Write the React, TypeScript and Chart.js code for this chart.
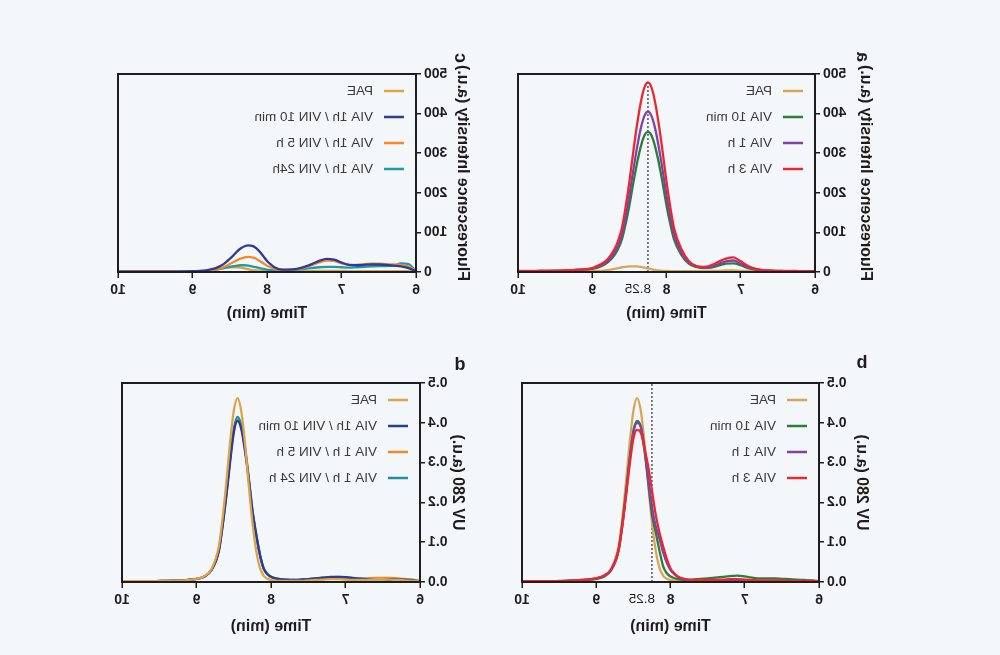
import React, { useEffect, useRef } from "react";
import { Chart, registerables } from "chart.js";

Chart.register(...registerables);

// ---------- data ----------
const TIME = [
  6.0, 6.1, 6.2, 6.3, 6.4, 6.5, 6.6, 6.7, 6.8, 6.9,
  7.0, 7.1, 7.2, 7.3, 7.4, 7.5, 7.6, 7.7, 7.8, 7.9,
  7.95,
  8.0, 8.05, 8.1, 8.15, 8.2, 8.25, 8.3, 8.35, 8.4, 8.45, 8.5, 8.55, 8.6,
  8.65,
  8.7, 8.8, 8.9, 9.0, 9.2, 9.4, 9.6, 9.8, 10.0,
];
const X_TICKS = [6, 7, 8, 9, 10];
const MARK_TIME = 8.25;
const MARK_LABEL = "8.25";
const MARK_TOP_FL = 480;
const MARK_TOP_UV = 0.5;
const FL_TICKS = [0, 100, 200, 300, 400, 500];
const UV_TICKS = [0, 0.1, 0.2, 0.3, 0.4, 0.5];

// Panel a : fluorescence, VIA
const A_PAE = [2, 2, 2, 2, 2, 2, 2, 2, 2, 3, 3, 4, 4, 3, 3, 2, 2, 2, 2, 2, 2, 3, 3, 4, 5, 7, 9, 11, 13, 14, 14, 14, 13, 12, 10, 8, 5, 3, 2, 2, 2, 2, 2, 2];
const A_VIA10 = [2, 2, 2, 2, 2, 2, 3, 4, 6, 10, 17, 22, 21, 16, 11, 10, 13, 21, 43, 83, 122, 168, 222, 272, 314, 344, 354, 344, 314, 272, 222, 168, 122, 83, 59, 43, 23, 13, 8, 5, 3, 3, 2, 2];
const A_VIA1H = [2, 2, 2, 2, 2, 3, 3, 4, 7, 12, 21, 29, 27, 20, 13, 11, 15, 24, 49, 95, 140, 193, 254, 311, 360, 393, 405, 393, 360, 311, 254, 193, 140, 95, 68, 49, 26, 15, 9, 5, 3, 3, 2, 2];
const A_VIA3H = [2, 2, 2, 3, 3, 3, 4, 5, 8, 15, 27, 37, 34, 26, 17, 13, 15, 28, 58, 112, 165, 228, 300, 368, 425, 465, 479, 465, 425, 368, 300, 228, 165, 112, 80, 58, 31, 18, 10, 6, 4, 3, 3, 3];

// Panel c : fluorescence, VIN
const C_PAE = [1, 2, 2, 2, 2, 2, 2, 2, 2, 2, 3, 3, 3, 3, 2, 2, 2, 2, 2, 2, 2, 2, 2, 3, 4, 5, 7, 9, 11, 12, 12, 12, 11, 9, 7, 6, 3, 2, 1, 1, 1, 1, 1, 1];
const C_VIN10 = [1, 10, 14, 16, 18, 19, 19, 18, 17, 18, 24, 31, 33, 28, 20, 13, 8, 6, 6, 12, 19, 28, 40, 52, 61, 66, 67, 65, 60, 52, 42, 33, 25, 18, 13, 9, 5, 3, 2, 1, 1, 1, 1, 1];
const C_VIN5H = [1, 14, 18, 19, 20, 21, 21, 20, 18, 18, 22, 28, 29, 24, 17, 11, 7, 5, 5, 8, 12, 16, 22, 28, 34, 37, 38, 37, 34, 30, 25, 20, 15, 11, 8, 6, 4, 2, 1, 1, 1, 1, 1, 1];
const C_VIN24H = [2, 20, 22, 16, 15, 15, 14, 13, 12, 11, 12, 13, 13, 12, 10, 8, 6, 5, 4, 4, 5, 6, 8, 10, 12, 14, 16, 17, 17, 16, 15, 13, 11, 9, 7, 5, 3, 2, 1, 1, 1, 1, 1, 1];

// Panel b : UV 280, VIA
const B_PAE = [0.002, 0.002, 0.002, 0.002, 0.002, 0.002, 0.002, 0.003, 0.003, 0.004, 0.005, 0.005, 0.005, 0.004, 0.003, 0.003, 0.003, 0.003, 0.003, 0.003, 0.004, 0.005, 0.008, 0.016, 0.036, 0.08, 0.15, 0.245, 0.35, 0.43, 0.462, 0.43, 0.35, 0.25, 0.16, 0.09, 0.032, 0.014, 0.008, 0.004, 0.003, 0.002, 0.002, 0.002];
const B_VIA10 = [0.002, 0.004, 0.005, 0.006, 0.007, 0.008, 0.009, 0.009, 0.009, 0.011, 0.014, 0.016, 0.015, 0.013, 0.011, 0.009, 0.008, 0.006, 0.005, 0.007, 0.01, 0.014, 0.022, 0.04, 0.08, 0.125, 0.17, 0.25, 0.33, 0.39, 0.405, 0.38, 0.31, 0.225, 0.145, 0.08, 0.03, 0.013, 0.008, 0.004, 0.003, 0.002, 0.002, 0.002];
const B_VIA1H = [0.002, 0.003, 0.003, 0.003, 0.003, 0.003, 0.003, 0.003, 0.003, 0.003, 0.003, 0.004, 0.004, 0.004, 0.004, 0.004, 0.004, 0.004, 0.006, 0.012, 0.02, 0.03, 0.048, 0.075, 0.11, 0.14, 0.19, 0.26, 0.335, 0.39, 0.4, 0.375, 0.305, 0.22, 0.14, 0.078, 0.03, 0.015, 0.009, 0.005, 0.003, 0.002, 0.002, 0.002];
const B_VIA3H = [0.002, 0.003, 0.003, 0.003, 0.003, 0.004, 0.004, 0.004, 0.004, 0.005, 0.006, 0.007, 0.007, 0.006, 0.006, 0.005, 0.005, 0.005, 0.007, 0.014, 0.022, 0.034, 0.058, 0.09, 0.125, 0.17, 0.23, 0.29, 0.335, 0.375, 0.382, 0.36, 0.295, 0.215, 0.14, 0.08, 0.032, 0.016, 0.01, 0.005, 0.003, 0.002, 0.002, 0.002];

// Panel d : UV 280, VIN
const D_PAE = [0.002, 0.003, 0.004, 0.005, 0.006, 0.007, 0.007, 0.006, 0.005, 0.005, 0.006, 0.007, 0.007, 0.006, 0.005, 0.004, 0.003, 0.003, 0.003, 0.003, 0.004, 0.005, 0.008, 0.016, 0.036, 0.08, 0.15, 0.245, 0.35, 0.43, 0.462, 0.43, 0.35, 0.25, 0.16, 0.09, 0.032, 0.014, 0.008, 0.004, 0.003, 0.002, 0.002, 0.002];
const D_VIN10 = [0.002, 0.004, 0.005, 0.006, 0.006, 0.007, 0.007, 0.007, 0.008, 0.01, 0.012, 0.013, 0.013, 0.011, 0.009, 0.007, 0.006, 0.005, 0.006, 0.008, 0.01, 0.013, 0.02, 0.035, 0.07, 0.12, 0.18, 0.26, 0.33, 0.385, 0.405, 0.375, 0.3, 0.215, 0.14, 0.078, 0.03, 0.013, 0.008, 0.004, 0.003, 0.002, 0.002, 0.002];
const D_VIN5H = [0.002, 0.006, 0.008, 0.009, 0.01, 0.01, 0.01, 0.009, 0.008, 0.008, 0.009, 0.01, 0.01, 0.009, 0.008, 0.006, 0.005, 0.004, 0.005, 0.007, 0.009, 0.012, 0.019, 0.034, 0.068, 0.118, 0.178, 0.26, 0.335, 0.39, 0.41, 0.38, 0.305, 0.218, 0.142, 0.08, 0.03, 0.013, 0.008, 0.004, 0.003, 0.002, 0.002, 0.002];
const D_VIN24H = [0.002, 0.005, 0.006, 0.006, 0.007, 0.007, 0.007, 0.008, 0.009, 0.01, 0.012, 0.013, 0.012, 0.011, 0.009, 0.007, 0.006, 0.005, 0.006, 0.008, 0.01, 0.013, 0.02, 0.035, 0.07, 0.122, 0.182, 0.265, 0.34, 0.395, 0.415, 0.385, 0.31, 0.222, 0.145, 0.08, 0.03, 0.013, 0.008, 0.004, 0.003, 0.002, 0.002, 0.002];

// ---------- styles ----------
const FONT = "'Liberation Sans', Arial, Helvetica, sans-serif";
const INK = "#1d1d1d";
const BG = "#f4f7fa";

type Series = { label: string; data: number[]; color: string; order: number };
type Panel = {
  key: string;
  canvas: { left: number; top: number; w: number; h: number };
  area: { l: number; t: number; r: number; b: number };
  yTicks: number[];
  yDecimals: number;
  yTitle: string;
  yTitleCenter: number;
  xTitlePadBottom: number;
  series: Series[];
  markTop?: number;
  label: { text: string; x: number; y: number; rotate: boolean };
};

const PANELS: Panel[] = [
  {
    key: "a",
    canvas: { left: 0, top: 0, w: 500, h: 330 },
    area: { l: 185, t: 74, r: 482, b: 272 },
    yTicks: FL_TICKS, yDecimals: 0,
    yTitle: "Fluorescence Intensity (a.u.)", yTitleCenter: 135, xTitlePadBottom: 7,
    series: [
      { label: "PAE", data: A_PAE, color: "#d8a557", order: 3 },
      { label: "VIA 10 min", data: A_VIA10, color: "#2f7d3a", order: 2 },
      { label: "VIA 1 h", data: A_VIA1H, color: "#7c43a8", order: 1 },
      { label: "VIA 3 h", data: A_VIA3H, color: "#ea2831", order: 0 },
    ],
    markTop: MARK_TOP_FL,
    label: { text: "a", x: 138, y: 57, rotate: true },
  },
  {
    key: "c",
    canvas: { left: 500, top: 0, w: 500, h: 330 },
    area: { l: 84, t: 74, r: 382, b: 272 },
    yTicks: FL_TICKS, yDecimals: 0,
    yTitle: "Fluorescence Intensity (a.u.)", yTitleCenter: 38, xTitlePadBottom: 7,
    series: [
      { label: "PAE", data: C_PAE, color: "#dfa246", order: 3 },
      { label: "VIA 1h / VIN 10 min", data: C_VIN10, color: "#2c3a98", order: 0 },
      { label: "VIA 1h / VIN 5 h", data: C_VIN5H, color: "#f38a26", order: 1 },
      { label: "VIA 1h / VIN 24h", data: C_VIN24H, color: "#1f9aa6", order: 2 },
    ],
    label: { text: "c", x: 40, y: 58, rotate: true },
  },
  {
    key: "b",
    canvas: { left: 0, top: 330, w: 500, h: 325 },
    area: { l: 181, t: 53, r: 478, b: 252 },
    yTicks: UV_TICKS, yDecimals: 1,
    yTitle: "UV 280 (a.u.)", yTitleCenter: 139, xTitlePadBottom: 19,
    series: [
      { label: "PAE", data: B_PAE, color: "#d8a557", order: 3 },
      { label: "VIA 10 min", data: B_VIA10, color: "#2f7d3a", order: 2 },
      { label: "VIA 1 h", data: B_VIA1H, color: "#7c43a8", order: 1 },
      { label: "VIA 3 h", data: B_VIA3H, color: "#ea2831", order: 0 },
    ],
    markTop: MARK_TOP_UV,
    label: { text: "b", x: 138, y: 33, rotate: false },
  },
  {
    key: "d",
    canvas: { left: 500, top: 330, w: 500, h: 325 },
    area: { l: 80, t: 53, r: 378, b: 252 },
    yTicks: UV_TICKS, yDecimals: 1,
    yTitle: "UV 280 (a.u.)", yTitleCenter: 43, xTitlePadBottom: 19,
    series: [
      { label: "PAE", data: D_PAE, color: "#dfa246", order: 0 },
      { label: "VIA 1h / VIN 10 min", data: D_VIN10, color: "#2c3a98", order: 1 },
      { label: "VIA 1 h / VIN 5 h", data: D_VIN5H, color: "#f38a26", order: 3 },
      { label: "VIA 1 h / VIN 24 h", data: D_VIN24H, color: "#1f8fa2", order: 2 },
    ],
    label: { text: "d", x: 40, y: 35, rotate: false },
  },
];

function makeExtras(p: Panel) {
  return {
    id: "extras_" + p.key,
    afterDatasetsDraw(chart: any) {
      const { ctx, chartArea: a } = chart;
      ctx.save();
      ctx.strokeStyle = INK;
      ctx.lineWidth = 2;
      ctx.strokeRect(a.left, a.top, a.right - a.left, a.bottom - a.top);
      ctx.font = `13.5px ${FONT}`;
      ctx.textBaseline = "middle";
      ctx.textAlign = "left";
      p.series.forEach((s, i) => {
        const y = a.top + 17 + i * 26;
        ctx.strokeStyle = s.color;
        ctx.lineWidth = 2.5;
        ctx.beginPath();
        ctx.moveTo(a.left + 12, y);
        ctx.lineTo(a.left + 32, y);
        ctx.stroke();
        ctx.fillStyle = "#3a3a3a";
        ctx.fillText(s.label, a.left + 43, y);
      });
      ctx.restore();
    },
    afterDraw(chart: any) {
      const { ctx, chartArea: a, scales } = chart;
      ctx.save();
      if (p.markTop !== undefined) {
        const x = scales.x.getPixelForValue(MARK_TIME) + 10;
        ctx.font = `13.5px ${FONT}`;
        ctx.fillStyle = INK;
        ctx.textAlign = "center";
        ctx.textBaseline = "top";
        ctx.fillText(MARK_LABEL, x, a.bottom + 11);
      }
      ctx.font = `bold 18px ${FONT}`;
      ctx.fillStyle = INK;
      ctx.textAlign = "center";
      ctx.textBaseline = "middle";
      ctx.translate(p.label.x, p.label.y);
      if (p.label.rotate) ctx.rotate(-Math.PI / 2);
      ctx.fillText(p.label.text, 0, 0);
      ctx.restore();
    },
  };
}

function PanelChart({ p }: { p: Panel }) {
  const ref = useRef<HTMLCanvasElement | null>(null);
  useEffect(() => {
    if (!ref.current) return;
    const datasets: any[] = p.series.map((s) => ({
      label: s.label,
      data: TIME.map((t, i) => ({ x: t, y: s.data[i] })),
      borderColor: s.color,
      backgroundColor: s.color,
      borderWidth: 2.3,
      pointRadius: 0,
      fill: false,
      cubicInterpolationMode: "monotone",
      order: s.order,
    }));
    if (p.markTop !== undefined) {
      datasets.push({
        label: "",
        data: [{ x: MARK_TIME, y: 0 }, { x: MARK_TIME, y: p.markTop }],
        borderColor: "#555",
        borderWidth: 1.5,
        borderDash: [2, 2],
        pointRadius: 0,
        fill: false,
        order: 10,
      });
    }
    const yMax = p.yTicks[p.yTicks.length - 1];
    const chart = new Chart(ref.current, {
      type: "line",
      data: { datasets },
      plugins: [makeExtras(p)],
      options: {
        responsive: false,
        animation: false,
        devicePixelRatio: 1,
        layout: { padding: { left: 0, top: p.area.t, right: p.canvas.w - p.area.r, bottom: 0 } },
        plugins: { legend: { display: false }, tooltip: { enabled: false } },
        scales: {
          x: {
            type: "linear",
            min: 6,
            max: 10,
            afterBuildTicks: (s: any) => {
              s.ticks = X_TICKS.map((v) => ({ value: v }));
            },
            afterFit: (s: any) => {
              s.height = p.canvas.h - p.area.b;
            },
            ticks: {
              autoSkip: false,
              maxRotation: 0,
              padding: 4,
              color: INK,
              font: { family: FONT, size: 14, weight: "bold" },
              callback: (v: any) => String(v),
            },
            grid: { drawOnChartArea: false, drawTicks: true, tickLength: 6, color: INK, lineWidth: 1.5 },
            border: { display: false },
            title: {
              display: true,
              text: "Time (min)",
              color: INK,
              font: { family: FONT, size: 16, weight: "bold" },
              padding: { top: 0, bottom: p.xTitlePadBottom },
            },
          },
          y: {
            type: "linear",
            min: 0,
            max: yMax,
            afterBuildTicks: (s: any) => {
              s.ticks = p.yTicks.map((v) => ({ value: v }));
            },
            afterFit: (s: any) => {
              s.width = p.area.l;
            },
            ticks: {
              padding: 3,
              color: INK,
              font: { family: FONT, size: 14, weight: "bold" },
              callback: (v: any) => Number(v).toFixed(p.yDecimals),
            },
            grid: { drawOnChartArea: false, drawTicks: true, tickLength: 5, color: INK, lineWidth: 1.5 },
            border: { display: false },
            title: {
              display: true,
              text: p.yTitle,
              color: INK,
              font: { family: FONT, size: 16, weight: "bold" },
              padding: { top: p.yTitleCenter - 9.6, bottom: 0 },
            },
          },
        },
      } as any,
    });
    return () => chart.destroy();
  }, [p]);
  return (
    <canvas
      ref={ref}
      width={p.canvas.w}
      height={p.canvas.h}
      style={{
        position: "absolute",
        left: p.canvas.left,
        top: p.canvas.top,
        width: p.canvas.w,
        height: p.canvas.h,
        display: "block",
      }}
    />
  );
}

export default function App() {
  return (
    <div
      style={{
        position: "fixed",
        left: 0,
        top: 0,
        width: 1000,
        height: 655,
        background: BG,
        transform: "scaleX(-1)",
        transformOrigin: "50% 50%",
        overflow: "hidden",
      }}
    >
      {PANELS.map((p) => (
        <PanelChart key={p.key} p={p} />
      ))}
    </div>
  );
}
